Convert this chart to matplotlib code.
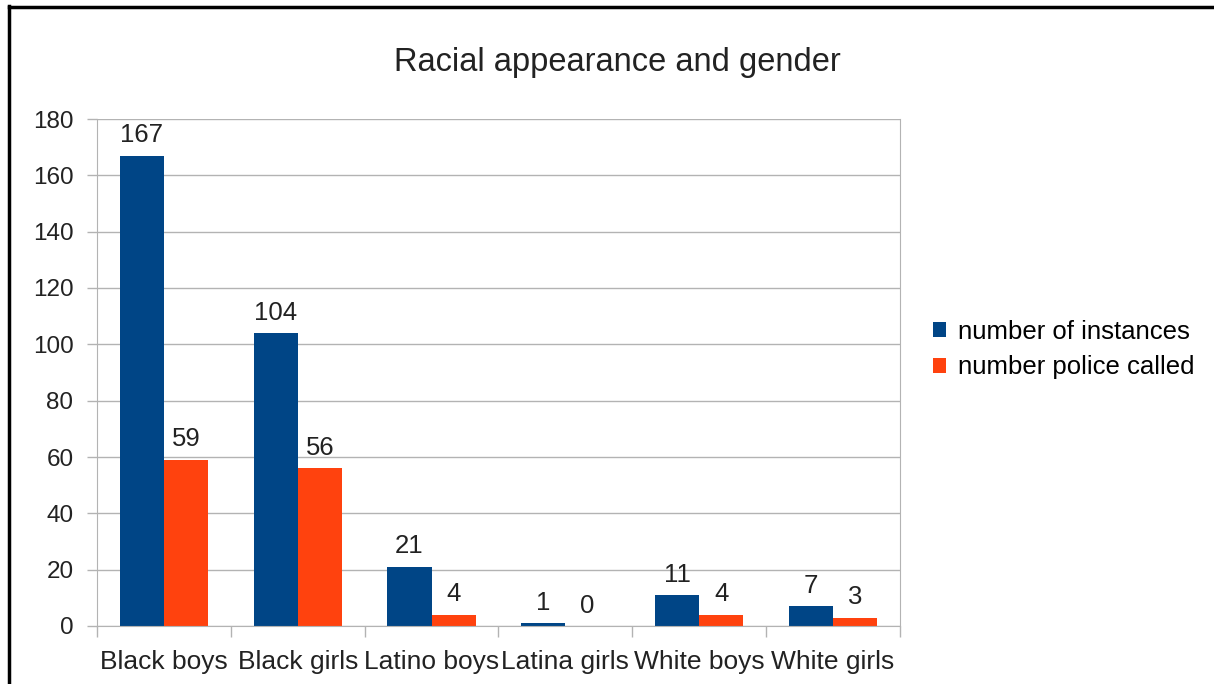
import matplotlib
matplotlib.use("Agg")
import numpy as np
import matplotlib.pyplot as plt
from matplotlib.lines import Line2D

plt.rcParams['font.family'] = ['Liberation Sans', 'DejaVu Sans']

groups = ['Black boys', 'Black girls', 'Latino boys', 'Latina girls', 'White boys', 'White girls']
instances = [167, 104, 21, 1, 11, 7]
police = [59, 56, 4, 0, 4, 3]
series_names = ['number of instances', 'number police called']
colors = ['#004586', '#ff420e']

fig = plt.figure(figsize=(12.14, 6.84), dpi=100)
ax = fig.add_axes([97 / 1214, 1 - 626 / 684, (900 - 97) / 1214, (626 - 119) / 684])

x = np.arange(len(groups))
w = 0.33
b1 = ax.bar(x - w / 2, instances, w, color=colors[0], label=series_names[0])
b2 = ax.bar(x + w / 2, police, w, color=colors[1], label=series_names[1])

for bars, vals in ((b1, instances), (b2, police)):
    for r, v in zip(bars, vals):
        ax.text(r.get_x() + r.get_width() / 2, v + 3, str(v), ha='center', va='bottom',
                fontsize=18.5, color='#222222')

ax.set_xlim(-0.5, len(groups) - 0.5)
ax.set_ylim(0, 180)
ax.set_yticks(np.arange(0, 181, 20))
ax.yaxis.grid(True, color='#b3b3b3', linewidth=1)
ax.set_axisbelow(True)

# category labels centred, ticks on the boundaries
ax.set_xticks(np.arange(-0.5, len(groups), 1))
ax.set_xticklabels([])
ax.set_xticks(x, minor=True)
ax.set_xticklabels(groups, minor=True, fontsize=19, color='#222222')
ax.tick_params(axis='x', which='minor', length=0, pad=17)
ax.tick_params(axis='x', which='major', length=8, color='#b3b3b3', width=1)
ax.tick_params(axis='y', length=7, color='#b3b3b3', width=1, labelsize=17.5,
               labelcolor='#222222', pad=10)

for s in ['left', 'right', 'bottom']:
    ax.spines[s].set_color('#b3b3b3')
ax.spines['top'].set_visible(False)

fig.text(617 / 1214, 1 - 63 / 684, 'Racial appearance and gender', ha='center', va='center',
         fontsize=23.5, color='#222222')

ax.legend(loc='center left', bbox_to_anchor=(1.0125, 0.545), frameon=False, fontsize=18.5,
          handlelength=0.5, handleheight=0.5, handletextpad=0.45, labelspacing=0.45)

# outer border (left and top)
fig.add_artist(Line2D([8.5 / 1214, 8.5 / 1214], [0, 1 - 6 / 684], color='black', linewidth=2.5))
fig.add_artist(Line2D([8.5 / 1214, 1], [1 - 6.5 / 684, 1 - 6.5 / 684], color='black', linewidth=2.5))

fig.savefig('out.png', dpi=100, facecolor='white')
